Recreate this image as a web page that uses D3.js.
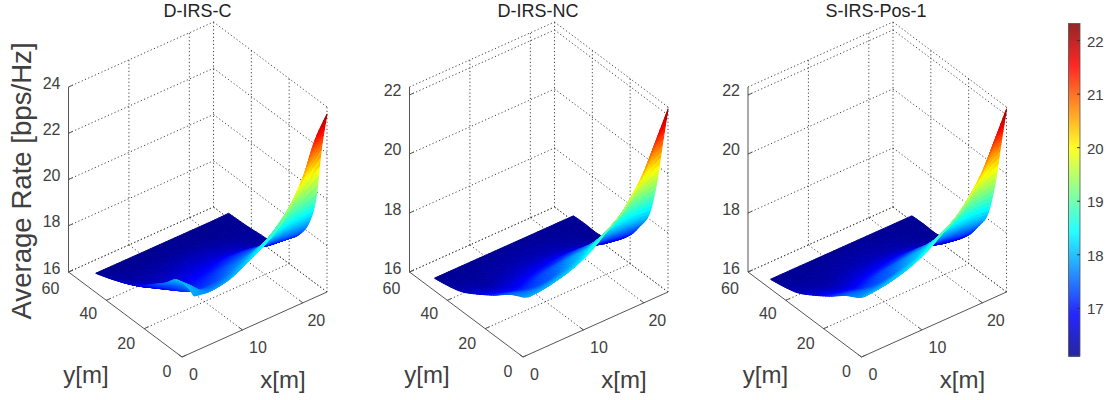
<!DOCTYPE html>
<html>
<head>
<meta charset="utf-8">
<script src="https://cdn.jsdelivr.net/npm/d3@7"></script>
<style>
  html, body { margin: 0; padding: 0; background: #fff; }
  text { font-family: "Liberation Sans", Arial, sans-serif; fill: #404040; }
  .grid { fill: none; stroke: #444; stroke-width: 1; stroke-dasharray: 1.2 2.4; }
  .axis { fill: none; stroke: #555; stroke-width: 1; }
</style>
</head>
<body>
<svg id="chart" width="1109" height="400"></svg>
<script>
// values
const xTicks = [0, 10, 20];
const yTicks = [0, 20, 40, 60];
const xLim = [0, 24];
const yLim = [0, 60];
const colorTicks = [17, 18, 19, 20, 21, 22];
const colorLim = [16.1, 22.31];

const zTicksC = [16, 18, 20, 22, 24];
const zTicksN = [16, 18, 20, 22];

const xsC = [2, 3, 5, 8, 11, 14, 17, 20, 22, 24];
const ysC = [0, 3, 6, 10, 15, 20, 28, 36, 44, 52];
const ratesC = [
  [18.40, 18.35, 18.30, 18.45, 18.85, 19.30, 20.00, 21.40, 22.80, 23.70],
  [18.55, 18.40, 18.10, 18.20, 18.55, 18.95, 19.60, 20.50, 21.40, 22.00],
  [18.60, 18.40, 17.95, 17.95, 18.25, 18.60, 18.90, 19.25, 19.45, 19.60],
  [18.50, 18.20, 17.65, 17.65, 17.95, 18.15, 18.35, 18.40, 18.35, 18.30],
  [18.05, 17.85, 17.35, 17.40, 17.60, 17.75, 17.80, 17.75, 17.65, 17.55],
  [17.70, 17.45, 17.10, 17.15, 17.25, 17.40, 17.40, 17.25, 17.15, 17.10],
  [17.15, 16.95, 16.75, 16.80, 16.85, 16.85, 16.80, 16.65, 16.50, 16.45],
  [16.75, 16.60, 16.50, 16.50, 16.55, 16.55, 16.50, 16.40, 16.33, 16.32],
  [16.45, 16.38, 16.30, 16.30, 16.30, 16.30, 16.28, 16.25, 16.25, 16.25],
  [16.20, 16.20, 16.20, 16.20, 16.20, 16.20, 16.20, 16.20, 16.20, 16.22]
];

const xsN = [1, 3, 5, 8, 11, 14, 17, 20, 22, 24];
const ysN = [0, 3, 6, 10, 15, 20, 28, 36, 44, 50];
const ratesN = [
  [17.95, 17.98, 18.05, 18.22, 18.52, 19.00, 19.50, 20.40, 21.30, 22.20],
  [17.80, 17.80, 17.85, 18.00, 18.28, 18.68, 19.10, 19.85, 20.50, 20.85],
  [17.70, 17.65, 17.65, 17.78, 18.05, 18.35, 18.65, 19.10, 19.30, 19.40],
  [17.55, 17.45, 17.40, 17.50, 17.85, 17.95, 18.20, 18.25, 18.22, 18.15],
  [17.30, 17.20, 17.15, 17.35, 17.50, 17.60, 17.65, 17.62, 17.55, 17.50],
  [17.05, 16.95, 16.90, 17.05, 17.15, 17.25, 17.25, 17.15, 17.05, 16.97],
  [16.70, 16.60, 16.55, 16.65, 16.72, 16.75, 16.70, 16.58, 16.48, 16.42],
  [16.40, 16.35, 16.30, 16.38, 16.42, 16.42, 16.38, 16.30, 16.25, 16.20],
  [16.25, 16.22, 16.22, 16.25, 16.27, 16.27, 16.25, 16.22, 16.20, 16.20],
  [16.18, 16.18, 16.18, 16.18, 16.18, 16.18, 16.18, 16.18, 16.18, 16.18]
];

const xsP = [0.6, 3, 5, 8, 11, 14, 17, 20, 22, 24];
const ysP = [0, 3, 6, 10, 15, 20, 28, 36, 44, 50];
const ratesP = [
  [18.00, 18.05, 18.12, 18.30, 18.60, 19.05, 19.55, 20.40, 21.30, 22.20],
  [17.82, 17.85, 17.92, 18.08, 18.35, 18.72, 19.15, 19.88, 20.50, 20.85],
  [17.70, 17.68, 17.70, 17.85, 18.10, 18.40, 18.68, 19.12, 19.30, 19.40],
  [17.55, 17.48, 17.45, 17.55, 17.88, 18.00, 18.22, 18.26, 18.22, 18.15],
  [17.30, 17.22, 17.18, 17.38, 17.53, 17.63, 17.67, 17.63, 17.55, 17.50],
  [17.05, 16.96, 16.92, 17.07, 17.17, 17.27, 17.27, 17.16, 17.05, 16.97],
  [16.70, 16.60, 16.55, 16.66, 16.73, 16.76, 16.71, 16.58, 16.48, 16.42],
  [16.40, 16.35, 16.30, 16.38, 16.42, 16.42, 16.38, 16.30, 16.25, 16.20],
  [16.25, 16.22, 16.22, 16.25, 16.27, 16.27, 16.25, 16.22, 16.20, 16.20],
  [16.18, 16.18, 16.18, 16.18, 16.18, 16.18, 16.18, 16.18, 16.18, 16.18]
];

const panels = [
  { title: 'D-IRS-C', origin: [182, 357], titleX: 197.5, zTicks: zTicksC, zTop: 24, clim: [16.2, 23.9], xs: xsC, ys: ysC, rates: ratesC, zLabel: true },
  { title: 'D-IRS-NC', origin: [523, 357], titleX: 538, zTicks: zTicksN, zTop: 22.27, clim: [16.15, 22.3], xs: xsN, ys: ysN, rates: ratesN },
  { title: 'S-IRS-Pos-1', origin: [861.5, 357], titleX: 876, zTicks: zTicksN, zTop: 22.27, clim: [16.15, 22.3], xs: xsP, ys: ysP, rates: ratesP }
];

const svg = d3.select('#chart');

// MATLAB jet
const jetStops = [0, 0.125, 0.375, 0.625, 0.875, 1];
const jetColors = ['#00008f', '#0000ff', '#00ffff', '#ffff00', '#ff0000', '#800000'];
function jetScale(domain) {
  const t = d3.scaleLinear().domain(domain).range([0, 1]).clamp(true);
  const c = d3.scaleLinear().domain(jetStops).range(jetColors).interpolate(d3.interpolateRgb);
  return v => c(t(v));
}

// smooth shading between the read values (Catmull-Rom through them)
function along(arr, s) {
  const n = arr.length;
  const i = Math.min(Math.floor(s), n - 2);
  const t = s - i;
  const a = arr[Math.max(i - 1, 0)], b = arr[i], c = arr[i + 1], d = arr[Math.min(i + 2, n - 1)];
  return 0.5 * (2 * b + (c - a) * t + (2 * a - 5 * b + 4 * c - d) * t * t + (3 * b - a - 3 * c + d) * t * t * t);
}

function drawPanel(p) {
  const g = svg.append('g').attr('transform', `translate(${p.origin})`);

  // oblique box: every data axis has a horizontal and a vertical screen scale
  const xH = d3.scaleLinear().domain(xLim).range([0, 145]);
  const xV = d3.scaleLinear().domain(xLim).range([0, -65]);
  const yH = d3.scaleLinear().domain(yLim).range([0, -113.5]);
  const yV = d3.scaleLinear().domain(yLim).range([0, -85]);
  const zV = d3.scaleLinear().domain([16, p.zTop]).range([0, -185]);
  const project = (x, y, z) => [xH(x) + yH(y), xV(x) + yV(y) + zV(z)];
  const line = d3.line();
  const seg = (a, b, cls) => g.append('path').attr('class', cls).attr('d', line([project(...a), project(...b)]));

  const xMax = xLim[1], yMax = yLim[1], z0 = 16, zT = p.zTop;

  // walls and floor
  p.zTicks.concat(p.zTicks.includes(zT) ? [] : [zT]).forEach(z => {
    seg([0, yMax, z], [xMax, yMax, z], 'grid');
    seg([xMax, yMax, z], [xMax, 0, z], 'grid');
  });
  xTicks.concat([xMax]).forEach(x => {
    if (x === 0) return;
    seg([x, 0, z0], [x, yMax, z0], 'grid');
    seg([x, yMax, z0], [x, yMax, zT], 'grid');
  });
  yTicks.forEach(y => {
    if (y === 0) {
      seg([xMax, 0, z0], [xMax, 0, zT], 'grid');
      return;
    }
    seg([0, y, z0], [xMax, y, z0], 'grid');
    if (y !== yMax) seg([xMax, y, z0], [xMax, y, zT], 'grid');
  });

  // solid axes
  seg([0, 0, z0], [xMax, 0, z0], 'axis');
  seg([0, 0, z0], [0, yMax, z0], 'axis');
  seg([0, yMax, z0], [0, yMax, zT], 'axis');

  // ticks run along the floor and wall directions
  xTicks.forEach(x => seg([x, 0, z0], [x, 1.8, z0], 'axis'));
  yTicks.forEach(y => seg([0, y, z0], [0.7, y, z0], 'axis'));
  p.zTicks.forEach(z => seg([0, yMax, z], [0.7, yMax, z], 'axis'));

  // surface, far cells first, like "shading interp"
  const color = jetScale(p.clim);
  const shade = 6;
  const nx = (p.xs.length - 1) * shade, ny = (p.ys.length - 1) * shade;
  const verts = d3.range(nx + 1).map(a => {
    const col = p.rates.map(r => along(r, a / shade));
    const x = along(p.xs, a / shade);
    return d3.range(ny + 1).map(b => [x, along(p.ys, b / shade), along(col, b / shade)]);
  });
  const surface = g.append('g');
  for (let a = nx - 1; a >= 0; a--) {
    for (let b = ny - 1; b >= 0; b--) {
      const c = [verts[a][b], verts[a + 1][b], verts[a + 1][b + 1], verts[a][b + 1]];
      const fill = color(d3.mean(c, d => d[2]));
      surface.append('path')
        .attr('d', line(c.map(d => project(...d))) + 'Z')
        .attr('fill', fill)
        .attr('stroke', fill)
        .attr('stroke-width', 1)
        .attr('stroke-linejoin', 'round');
    }
  }

  // tick labels
  const label = (txt, pos, dx, dy, anchor) => g.append('text')
    .attr('x', pos[0] + dx).attr('y', pos[1] + dy)
    .attr('text-anchor', anchor || 'middle').attr('font-size', 16)
    .text(txt);
  p.zTicks.forEach(z => label(z, project(0, yMax, z), -8, 1.5, 'end'));
  const yOff = { 0: [-15, 19.5], 20: [-18, 20.5], 40: [-18, 19], 60: [-18, 21.5] };
  yTicks.forEach(y => label(y, project(0, y, z0), yOff[y][0], yOff[y][1]));
  const xOff = { 0: [11.5, 23], 10: [15.5, 23], 20: [13.5, 23] };
  xTicks.forEach(x => label(x, project(x, 0, z0), xOff[x][0], xOff[x][1]));

  svg.append('text').attr('x', p.titleX).attr('y', 17)
    .attr('text-anchor', 'middle').attr('font-size', 18).style('fill', '#222')
    .text(p.title);

  g.append('text').attr('x', -96).attr('y', 26)
    .attr('text-anchor', 'middle').attr('font-size', 24).text('y[m]');
  g.append('text').attr('x', 101).attr('y', 31)
    .attr('text-anchor', 'middle').attr('font-size', 24).text('x[m]');

  if (p.zLabel) {
    svg.append('text')
      .attr('transform', 'translate(31,181) rotate(-90)')
      .attr('text-anchor', 'middle').attr('font-size', 27.6)
      .text('Average Rate [bps/Hz]');
  }
}

panels.forEach(drawPanel);

// colorbar
const barY = d3.scaleLinear().domain(colorLim).range([356, 23.5]);
const barColor = jetScale(colorLim);
const bar = svg.append('g').attr('transform', 'translate(1068.5,0)');
d3.range(23.5, 356, 1).forEach(py => {
  bar.append('rect').attr('x', 0).attr('y', py).attr('width', 11.5).attr('height', 1.2)
    .attr('fill', barColor(barY.invert(py + 0.5)));
});
bar.append('rect').attr('x', 0).attr('y', 23.5).attr('width', 11.5).attr('height', 332.5)
  .attr('fill', 'none').attr('stroke', '#555').attr('stroke-width', 0.8);
const barAxis = bar.append('g').attr('transform', 'translate(11.5,0)')
  .call(d3.axisRight(barY).tickValues(colorTicks).tickSize(-3).tickPadding(7).tickFormat(d3.format('d')));
barAxis.select('.domain').remove();
barAxis.selectAll('.tick line').attr('stroke', '#333');
barAxis.selectAll('.tick text').attr('font-size', 15).attr('font-family', null).style('fill', '#404040').attr('dy', '0.4em');
</script>
</body>
</html>
